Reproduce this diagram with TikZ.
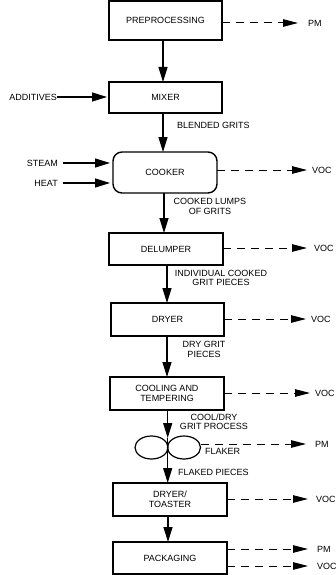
\documentclass[tikz,border=0pt]{standalone}
\usepackage{fontspec}
\setmainfont{Liberation Sans}
\usetikzlibrary{arrows.meta,shapes.geometric}
\begin{document}
\begin{tikzpicture}[x=1pt,y=-1pt,
  box/.style={draw,line width=1.4pt,inner sep=0pt,outer sep=0pt,align=center,font=\fontsize{9}{9.5}\selectfont},
  lbl/.style={inner sep=0pt,align=center,font=\fontsize{9}{9.5}\selectfont},
  roll/.style={draw,line width=1.2pt,ellipse,minimum width=33pt,minimum height=23pt,inner sep=0pt},
  arr/.style={line width=1.3pt,-{Triangle[length=15pt,width=9pt]}},
  darr/.style={line width=1pt,dash pattern=on 8pt off 6pt,-{Triangle[length=15pt,width=7.5pt]}}]
\useasboundingbox (0,0) rectangle (336,575);
% boxes
\node[box,minimum width=113pt,minimum height=39pt] (pre) at (165.5,20.5) {PREPROCESSING};
\node[box,minimum width=113pt,minimum height=31pt] (mix) at (165.5,97.5) {MIXER};
\node[box,rounded corners=9pt,minimum width=104pt,minimum height=41pt] (cook) at (165,172.5) {COOKER};
\node[box,minimum width=114pt,minimum height=32pt] (del) at (166,249) {DELUMPER};
\node[box,minimum width=113pt,minimum height=33pt] (dry) at (167.5,319.5) {DRYER};
\node[box,minimum width=114pt,minimum height=33pt] (cool) at (167,393.5) {COOLING AND\\TEMPERING};
\node[roll] (fl1) at (151.5,447.5) {};
\node[roll] (fl2) at (184,447.5) {};
\node[box,minimum width=114pt,minimum height=33pt] (toast) at (170,499.5) {DRYER/\\TOASTER};
\node[box,minimum width=114pt,minimum height=32pt] (pack) at (170,558) {PACKAGING};
% column coordinates
\coordinate (c1) at (163,0);
\coordinate (c2) at (164,0);
\coordinate (c3) at (167,0);
\coordinate (c4) at (167.7,0);
\coordinate (c5) at (168,0);
\coordinate (flk) at (167.7,438);
% main flow
\draw[arr] (pre.south -| c1) -- (mix.north -| c1);
\draw[arr] (mix.south -| c1) -- (cook.north -| c1);
\draw[arr] (cook.south -| c2) -- (del.north -| c2);
\draw[arr] (del.south -| c3) -- (dry.north -| c3);
\draw[arr] (dry.south -| c3) -- (cool.north -| c3);
\draw[arr] (cool.south -| c4) -- (flk);
\draw[arr] (flk) -- (toast.north -| c4);
\draw[arr] (toast.south -| c5) -- (pack.north -| c5);
% flow labels
\node[lbl,anchor=west] (l1) at (177,125) {BLENDED GRITS};
\node[lbl] (l2) at (210,206.5) {COOKED LUMPS\\OF GRITS};
\node[lbl] (l3) at (221,278) {INDIVIDUAL COOKED\\GRIT PIECES};
\node[lbl] (l4) at (204,349.5) {DRY GRIT\\PIECES};
\node[lbl] (l5) at (214,422) {COOL/DRY\\GRIT PROCESS};
\node[lbl,anchor=west] (l6) at (205,451) {FLAKER};
\node[lbl,anchor=west] (l7) at (178,472) {FLAKED PIECES};
% inputs
\node[lbl,anchor=east] (add) at (57,97) {ADDITIVES};
\node[lbl,anchor=east] (steam) at (58,163) {STEAM};
\node[lbl,anchor=east] (heat) at (58,183) {HEAT};
\draw[arr,shorten >=2pt] (add.east) -- (add.east -| mix.west);
\draw[arr,shorten <=5pt,shorten >=3pt] (steam.east) -- (steam.east -| cook.west);
\draw[arr,shorten <=5pt,shorten >=3pt] (heat.east) -- (heat.east -| cook.west);
% emissions
\node[lbl,anchor=west] (e1) at (308,23) {PM};
\node[lbl,anchor=west] (e2) at (312,170) {VOC};
\node[lbl,anchor=west] (e3) at (314,248) {VOC};
\node[lbl,anchor=west] (e4) at (311,319) {VOC};
\node[lbl,anchor=west] (e5) at (315,393) {VOC};
\node[lbl,anchor=west] (e6) at (315,444) {PM};
\node[lbl,anchor=west] (e7) at (316,499) {VOC};
\node[lbl,anchor=west] (e8) at (317,549) {PM};
\node[lbl,anchor=west] (e9) at (317,566) {VOC};
\draw[darr,shorten >=10pt] (e1.west -| pre.east) -- (e1.west);
\draw[darr,shorten >=5pt] (e2.west -| cook.east) -- (e2.west);
\draw[darr,shorten >=7pt] (e3.west -| del.east) -- (e3.west);
\draw[darr,shorten >=5pt] (e4.west -| dry.east) -- (e4.west);
\draw[darr,shorten >=5pt] (e5.west -| cool.east) -- (e5.west);
\draw[darr,shorten >=9pt] (e6.west -| fl2.east) -- (e6.west);
\draw[darr,shorten >=8pt] (e7.west -| toast.east) -- (e7.west);
\draw[darr,shorten >=9pt] (e8.west -| pack.east) -- (e8.west);
\draw[darr,shorten >=9pt] (e9.west -| pack.east) -- (e9.west);
\end{tikzpicture}
\end{document}
